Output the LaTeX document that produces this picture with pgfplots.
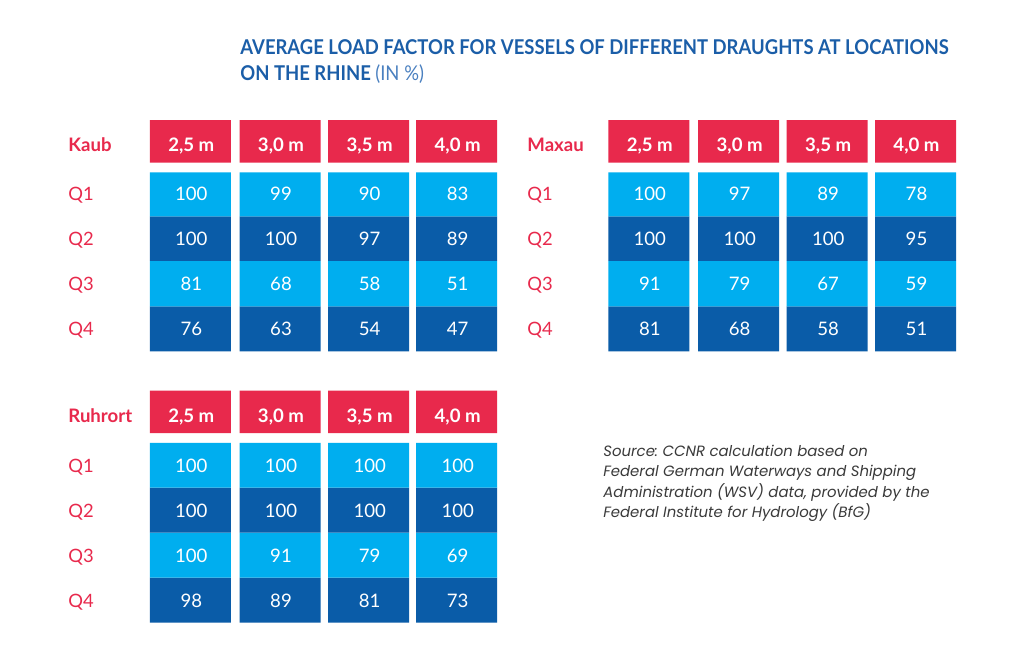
\documentclass[border=0pt]{standalone}
\usepackage{pgfplots}
\pgfplotsset{compat=1.18}
\usepackage{pgfplotstable}
\usepackage{graphicx}
\usepackage{fontspec}
\setmainfont{Lato}
\newfontfamily\srcfont{Poppins}
\frenchspacing
\definecolor{cRed}{HTML}{E8294C}
\definecolor{cLight}{HTML}{00AEEF}
\definecolor{cDark}{HTML}{0A5CA8}
\definecolor{cTitle}{HTML}{1B5EA8}
\definecolor{cTitleL}{HTML}{4A80C0}
\definecolor{cSrc}{HTML}{3A3A3A}

% cell layout: column centres and stacked segment heights (pixels)
\pgfplotstableread{
x     s0  s1   s2  s3 s4   s5   s6 s7   s8   s9  s10  s11 s12 s13
190.3 120 42.7 9.6 44 44.5 45.5 45 39.2 42.5 9.8 44.7 45  45  45
280.0 120 42.7 9.6 44 44.5 45.5 45 39.2 42.5 9.8 44.7 45  45  45
368.7 120 42.7 9.6 44 44.5 45.5 45 39.2 42.5 9.8 44.7 45  45  45
456.7 120 42.7 9.6 44 44.5 45.5 45 39.2 42.5 9.8 44.7 45  45  45
648.8 120 42.7 9.6 44 44.5 45.5 45 0    0    0   0    0   0   0
738.7 120 42.7 9.6 44 44.5 45.5 45 0    0    0   0    0   0   0
827.2 120 42.7 9.6 44 44.5 45.5 45 0    0    0   0    0   0   0
915.5 120 42.7 9.6 44 44.5 45.5 45 0    0    0   0    0   0   0
}\cells

% load factors (in %), x = column centre, y = text baseline
\pgfplotstableread[col sep=semicolon]{
x;y;t
191.3;200.7;100
281.0;200.7;99
369.7;200.7;90
457.7;200.7;83
191.3;245.2;100
281.0;245.2;100
369.7;245.2;97
457.7;245.2;89
191.3;290.4;81
281.0;290.4;68
369.7;290.4;58
457.7;290.4;51
191.3;335.7;76
281.0;335.7;63
369.7;335.7;54
457.7;335.7;47
649.8;200.7;100
739.7;200.7;97
828.2;200.7;89
916.5;200.7;78
649.8;245.2;100
739.7;245.2;100
828.2;245.2;100
916.5;245.2;95
649.8;290.4;91
739.7;290.4;79
828.2;290.4;67
916.5;290.4;59
649.8;335.7;81
739.7;335.7;68
828.2;335.7;58
916.5;335.7;51
191.3;472.0;100
281.0;472.0;100
369.7;472.0;100
457.7;472.0;100
191.3;517.0;100
281.0;517.0;100
369.7;517.0;100
457.7;517.0;100
191.3;562.0;100
281.0;562.0;91
369.7;562.0;79
457.7;562.0;69
191.3;607.0;98
281.0;607.0;89
369.7;607.0;81
457.7;607.0;73
}\values

\pgfplotstableread[col sep=semicolon]{
x;y;t
191.3;151.5;2,5 m
281.0;151.5;3,0 m
369.7;151.5;3,5 m
457.7;151.5;4,0 m
649.8;151.5;2,5 m
739.7;151.5;3,0 m
828.2;151.5;3,5 m
916.5;151.5;4,0 m
191.3;422;2,5 m
281.0;422;3,0 m
369.7;422;3,5 m
457.7;422;4,0 m
}\heads

\pgfplotstableread[col sep=semicolon]{
x;y;t
68;151.5;Kaub
527;151.5;Maxau
68;422;Ruhrort
}\names

\pgfplotstableread[col sep=semicolon]{
x;y;t
68;200.7;Q1
68;245.2;Q2
68;290.4;Q3
68;335.7;Q4
527;200.7;Q1
527;245.2;Q2
527;290.4;Q3
527;335.7;Q4
68;472.0;Q1
68;517.0;Q2
68;562.0;Q3
68;607.0;Q4
}\qs

\pgfplotsset{
  base/.style={width=511.5pt,height=330.5pt,scale only axis,
    xmin=0,xmax=1023,ymin=0,ymax=661,y dir=reverse,
    at={(0,0)},anchor=south west},
  txt/.style 2 args={draw=none,mark=none,nodes near coords,
    point meta=explicit symbolic,
    nodes near coords align={anchor=#1},
    every node near coord/.append style={inner sep=0pt,#2}},
}

\begin{document}
\begin{tikzpicture}
\begin{axis}[base,ybar stacked,bar width=81,
  axis line style={draw=none},ticks=none,
  axis background/.style={fill=white}]
\addplot[draw=none,fill=none] table[y=s0]{\cells};
\addplot[draw=none,fill=cRed] table[y=s1]{\cells};
\addplot[draw=none,fill=none] table[y=s2]{\cells};
\addplot[draw=none,fill=cLight] table[y=s3]{\cells};
\addplot[draw=none,fill=cDark] table[y=s4]{\cells};
\addplot[draw=none,fill=cLight] table[y=s5]{\cells};
\addplot[draw=none,fill=cDark] table[y=s6]{\cells};
\addplot[draw=none,fill=none] table[y=s7]{\cells};
\addplot[draw=none,fill=cRed] table[y=s8]{\cells};
\addplot[draw=none,fill=none] table[y=s9]{\cells};
\addplot[draw=none,fill=cLight] table[y=s10]{\cells};
\addplot[draw=none,fill=cDark] table[y=s11]{\cells};
\addplot[draw=none,fill=cLight] table[y=s12]{\cells};
\addplot[draw=none,fill=cDark] table[y=s13]{\cells};
\end{axis}
\begin{axis}[base,hide axis,clip=false]
\addplot[txt={base}{text=white,font=\fontsize{9.3}{10}\selectfont}] table[x=x,y=y,meta=t]{\values};
\addplot[txt={base}{text=white,font=\bfseries\fontsize{9.3}{10}\selectfont}] table[x=x,y=y,meta=t]{\heads};
\addplot[txt={base west}{text=cRed,font=\bfseries\fontsize{9.3}{10}\selectfont}] table[x=x,y=y,meta=t]{\names};
\addplot[txt={base west}{text=cRed,font=\fontsize{9.2}{10}\selectfont}] table[x=x,y=y,meta=t]{\qs};
\node[anchor=base west,inner sep=0pt,text=cTitle,font=\bfseries\fontsize{10.2}{12}\selectfont]
  at (axis cs:240,54) {\scalebox{0.905}[1]{AVERAGE LOAD FACTOR FOR VESSELS OF DIFFERENT DRAUGHTS AT LOCATIONS}};
\node[anchor=base west,inner sep=0pt,text=cTitle,font=\bfseries\fontsize{10.2}{12}\selectfont]
  at (axis cs:240,80) {\scalebox{0.905}[1]{ON THE RHINE \textcolor{cTitleL}{\mdseries(IN \%)}}};
\node[anchor=base west,inner sep=0pt,text=cSrc,font=\srcfont\itshape\fontsize{7.45}{10}\selectfont]
  at (axis cs:603,456.7) {Source: CCNR calculation based on};
\node[anchor=base west,inner sep=0pt,text=cSrc,font=\srcfont\itshape\fontsize{7.45}{10}\selectfont]
  at (axis cs:603,476.9) {Federal German Waterways and Shipping};
\node[anchor=base west,inner sep=0pt,text=cSrc,font=\srcfont\itshape\fontsize{7.45}{10}\selectfont]
  at (axis cs:603,497.1) {Administration (WSV) data, provided by the};
\node[anchor=base west,inner sep=0pt,text=cSrc,font=\srcfont\itshape\fontsize{7.45}{10}\selectfont]
  at (axis cs:603,517.3) {Federal Institute for Hydrology (BfG)};
\end{axis}
\end{tikzpicture}
\end{document}
